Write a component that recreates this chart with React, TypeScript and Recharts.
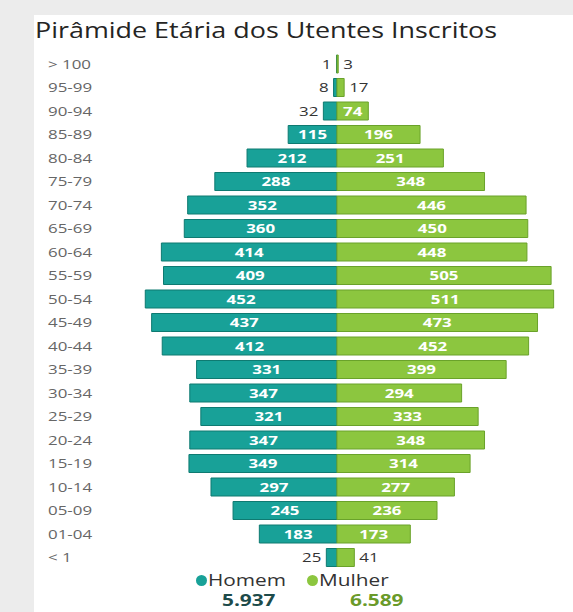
import { BarChart, Bar, XAxis, YAxis, LabelList } from "recharts";

const ageGroups = [
  "> 100", "95-99", "90-94", "85-89", "80-84", "75-79", "70-74", "65-69",
  "60-64", "55-59", "50-54", "45-49", "40-44", "35-39", "30-34", "25-29",
  "20-24", "15-19", "10-14", "05-09", "01-04", "< 1",
];
const homem = [1, 8, 32, 115, 212, 288, 352, 360, 414, 409, 452, 437, 412, 331, 347, 321, 347, 349, 297, 245, 183, 25];
const mulher = [3, 17, 74, 196, 251, 348, 446, 450, 448, 505, 511, 473, 452, 399, 294, 333, 348, 314, 277, 236, 173, 41];

const TEAL = "#18a198";
const TEAL_DARK = "#0e7a71";
const GREEN = "#8cc63f";
const GREEN_DARK = "#6aa22a";
const FONT = "'Open Sans', 'DejaVu Sans', sans-serif";
// the reference screenshot is stretched sideways, so texts get widened
const SX = 1.3;

const data = ageGroups.map((g, i) => ({ group: g, homem: -homem[i], mulher: mulher[i] }));

const sum = (a: number[]) => a.reduce((s, v) => s + v, 0);
const fmt = (n: number) => String(n).replace(/\B(?=(\d{3})+(?!\d))/g, ".");

const AgeTick = (props: any) => (
  <text
    transform={`translate(48, ${props.y + 5}) scale(${SX}, 1)`}
    fill="#666"
    fontSize={13}
    fontFamily={FONT}
    textAnchor="start"
  >
    {props.payload.value}
  </text>
);

const makeLabel = (side: "left" | "right") => (props: any) => {
  const { x, y, width, height, value } = props;
  const v = Math.abs(Number(value));
  const left = Math.min(x, x + width);
  const w = Math.abs(width);
  const cy = y + height / 2 + 4.5;
  let tx = left + w / 2;
  let anchor = "middle";
  let fill = "#fff";
  let weight: any = "bold";
  if (v < 50) {
    fill = "#333";
    weight = "normal";
    if (side === "left") {
      tx = left - 5;
      anchor = "end";
    } else {
      tx = left + w + 5;
      anchor = "start";
    }
  }
  return (
    <text
      transform={`translate(${tx}, ${cy}) scale(${SX}, 1)`}
      fill={fill}
      fontSize={13}
      fontWeight={weight}
      fontFamily={FONT}
      textAnchor={anchor}
    >
      {v}
    </text>
  );
};

const Wide = ({ left, top, size, color, bold, children }: any) => (
  <div
    style={{
      position: "absolute",
      left,
      top,
      fontFamily: FONT,
      fontSize: size,
      lineHeight: 1,
      color,
      fontWeight: bold ? "bold" : "normal",
      whiteSpace: "nowrap",
      transform: `scaleX(${SX})`,
      transformOrigin: "left center",
    }}
  >
    {children}
  </div>
);

const Dot = ({ left, color }: any) => (
  <div style={{ position: "absolute", left, top: 575, width: 11, height: 11, borderRadius: "50%", background: color }} />
);

export default function App() {
  return (
    <div style={{ position: "absolute", left: 0, top: 0, width: 573, height: 612, background: "#ececec", overflow: "hidden" }}>
      <div style={{ position: "absolute", left: 34, top: 15, width: 539, height: 597, background: "#fff" }} />
      <Wide left={35} top={20} size={21} color="#252423">
        <span style={{ display: "inline-block", transform: "scaleX(0.985)", transformOrigin: "left" }}>
          Pirâmide Etária dos Utentes Inscritos
        </span>
      </Wide>
      <div style={{ position: "absolute", left: 0, top: 0 }}>
        <BarChart
          width={573}
          height={570}
          data={data}
          layout="vertical"
          stackOffset="sign"
          barSize={18}
          margin={{ top: 52, right: 13, bottom: 1, left: 0 }}
        >
          <XAxis type="number" domain={[-488, 526]} hide />
          <YAxis type="category" dataKey="group" width={130} axisLine={false} tickLine={false} tick={<AgeTick />} interval={0} />
          <Bar dataKey="homem" stackId="a" fill={TEAL} stroke={TEAL_DARK} strokeWidth={1} isAnimationActive={false}>
            <LabelList dataKey="homem" content={makeLabel("left")} />
          </Bar>
          <Bar dataKey="mulher" stackId="a" fill={GREEN} stroke={GREEN_DARK} strokeWidth={1} isAnimationActive={false}>
            <LabelList dataKey="mulher" content={makeLabel("right")} />
          </Bar>
        </BarChart>
      </div>
      <Dot left={196} color={TEAL} />
      <Wide left={208} top={572} size={16} color="#333">Homem</Wide>
      <Dot left={307} color={GREEN} />
      <Wide left={319} top={572} size={16} color="#333">Mulher</Wide>
      <Wide left={222} top={592} size={16} color="#1d4b4a" bold>
        {fmt(sum(homem))}
      </Wide>
      <Wide left={350} top={592} size={16} color="#6a9a2a" bold>
        {fmt(sum(mulher))}
      </Wide>
    </div>
  );
}
